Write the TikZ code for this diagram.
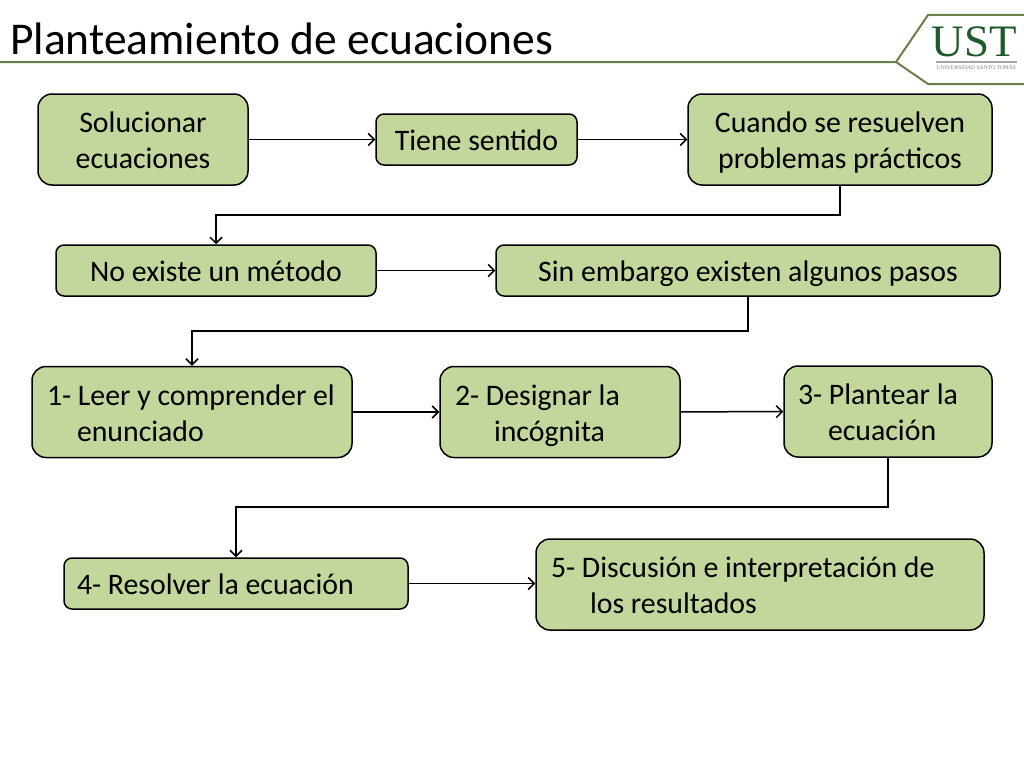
\documentclass[tikz,border=0pt]{standalone}
\usepackage{fontspec}
\usetikzlibrary{arrows.meta}
\setmainfont{Carlito}
\newfontfamily\logofont{Liberation Serif}
\definecolor{boxgreen}{HTML}{C3D69B}
\definecolor{rulegreen}{HTML}{6B7F4A}
\definecolor{logogreen}{HTML}{1F5A2A}
\tikzset{x=1pt, y=-1pt}
\tikzset{
    tallbox/.style={draw, fill=boxgreen, line width=1.5pt, rounded corners=14pt,
    	minimum height=91pt, inner sep=0pt, font=\fontsize{29.8}{36}\selectfont, align=flush center,
    	execute at begin node={\rule{0pt}{29pt}}, execute at end node={\rule[-7pt]{0pt}{0pt}}},
    flatbox/.style={tallbox, rounded corners=8pt, minimum height=51pt},
    hangbox/.style={tallbox, align=flush left, inner xsep=15pt},
    link/.style={-{Straight Barb[length=6pt, width=12pt]}, line width=1.5pt}
}

\begin{document}
\begin{tikzpicture}
	\useasboundingbox (0,0) rectangle (1024,768);
	\node [anchor=base west, inner sep=0pt, font=\fontsize{45.5}{50}\selectfont] (title) at (10,55) {Planteamiento de ecuaciones};
	\draw [rulegreen, line width=2pt] (0,62) -- (896,62) -- (928,15) -- (1024,15);
	\draw [rulegreen, line width=2pt] (896,62) -- (928,84) -- (1024,84);
	\node [inner sep=0pt, text=logogreen, font=\logofont\fontsize{45}{45}\selectfont] (ust) at (974,42) {UST};
	\draw [gray!70, line width=1.5pt] (936,62) -- (1017,62);
	\node [inner sep=0pt, text=gray, font=\logofont\fontsize{5.6}{6}\selectfont] (univ) at (976.5,67.5) {UNIVERSIDAD SANTO TOMÁS};

	\node [tallbox, text width=200pt, inner xsep=5pt] (a) at (143,139.5) {Solucionar\\ecuaciones};
	\node [flatbox, minimum width=201pt] (b) at (476.5,139.5) {Tiene sentido};
	\node [tallbox, text width=294pt, inner xsep=5pt] (c) at (840,139.5) {Cuando se resuelven\\problemas prácticos};
	\node [flatbox, minimum width=320pt] (d) at (216,270.5) {No existe un método};
	\node [flatbox, minimum width=504pt] (e) at (748,270.5) {Sin embargo existen algunos pasos};
	\node [hangbox, text width=290pt] (f) at (192,412) {1- Leer y comprender el\\\hspace*{30pt}enunciado};
	\node [hangbox, text width=210pt] (g) at (560,412) {2- Designar la\\\hspace*{39pt}incógnita};
	\node [hangbox, inner xsep=14pt, text width=180pt] (h) at (888,411.5) {3- Plantear la\\\hspace*{30pt}ecuación};
	\node [flatbox, hangbox, minimum height=51pt, rounded corners=8pt, inner xsep=13pt, text width=318pt] (i) at (236,583.5) {4- Resolver la ecuación};
	\node [hangbox, text width=418pt] (j) at (760,584.5) {5- Discusión e interpretación de\\\hspace*{39pt}los resultados};

	\coordinate (cd) at (840,215);
	\coordinate (ef) at (748,331);
	\coordinate (hi) at (888,507);

	\draw [link] (a) -- (b);
	\draw [link] (b) -- (c);
	\draw [link] (c.south) -- (cd) -| (d.north);
	\draw [link] (d) -- (e);
	\draw [link] (e.south) -- (ef) -| (f.north);
	\draw [link] (f) -- (g);
	\draw [link] (g) -- (h);
	\draw [link] (h.south) -- (hi) -| (i.north);
	\draw [link] (i.east) -- (j.west |- i.east);
\end{tikzpicture}
\end{document}
